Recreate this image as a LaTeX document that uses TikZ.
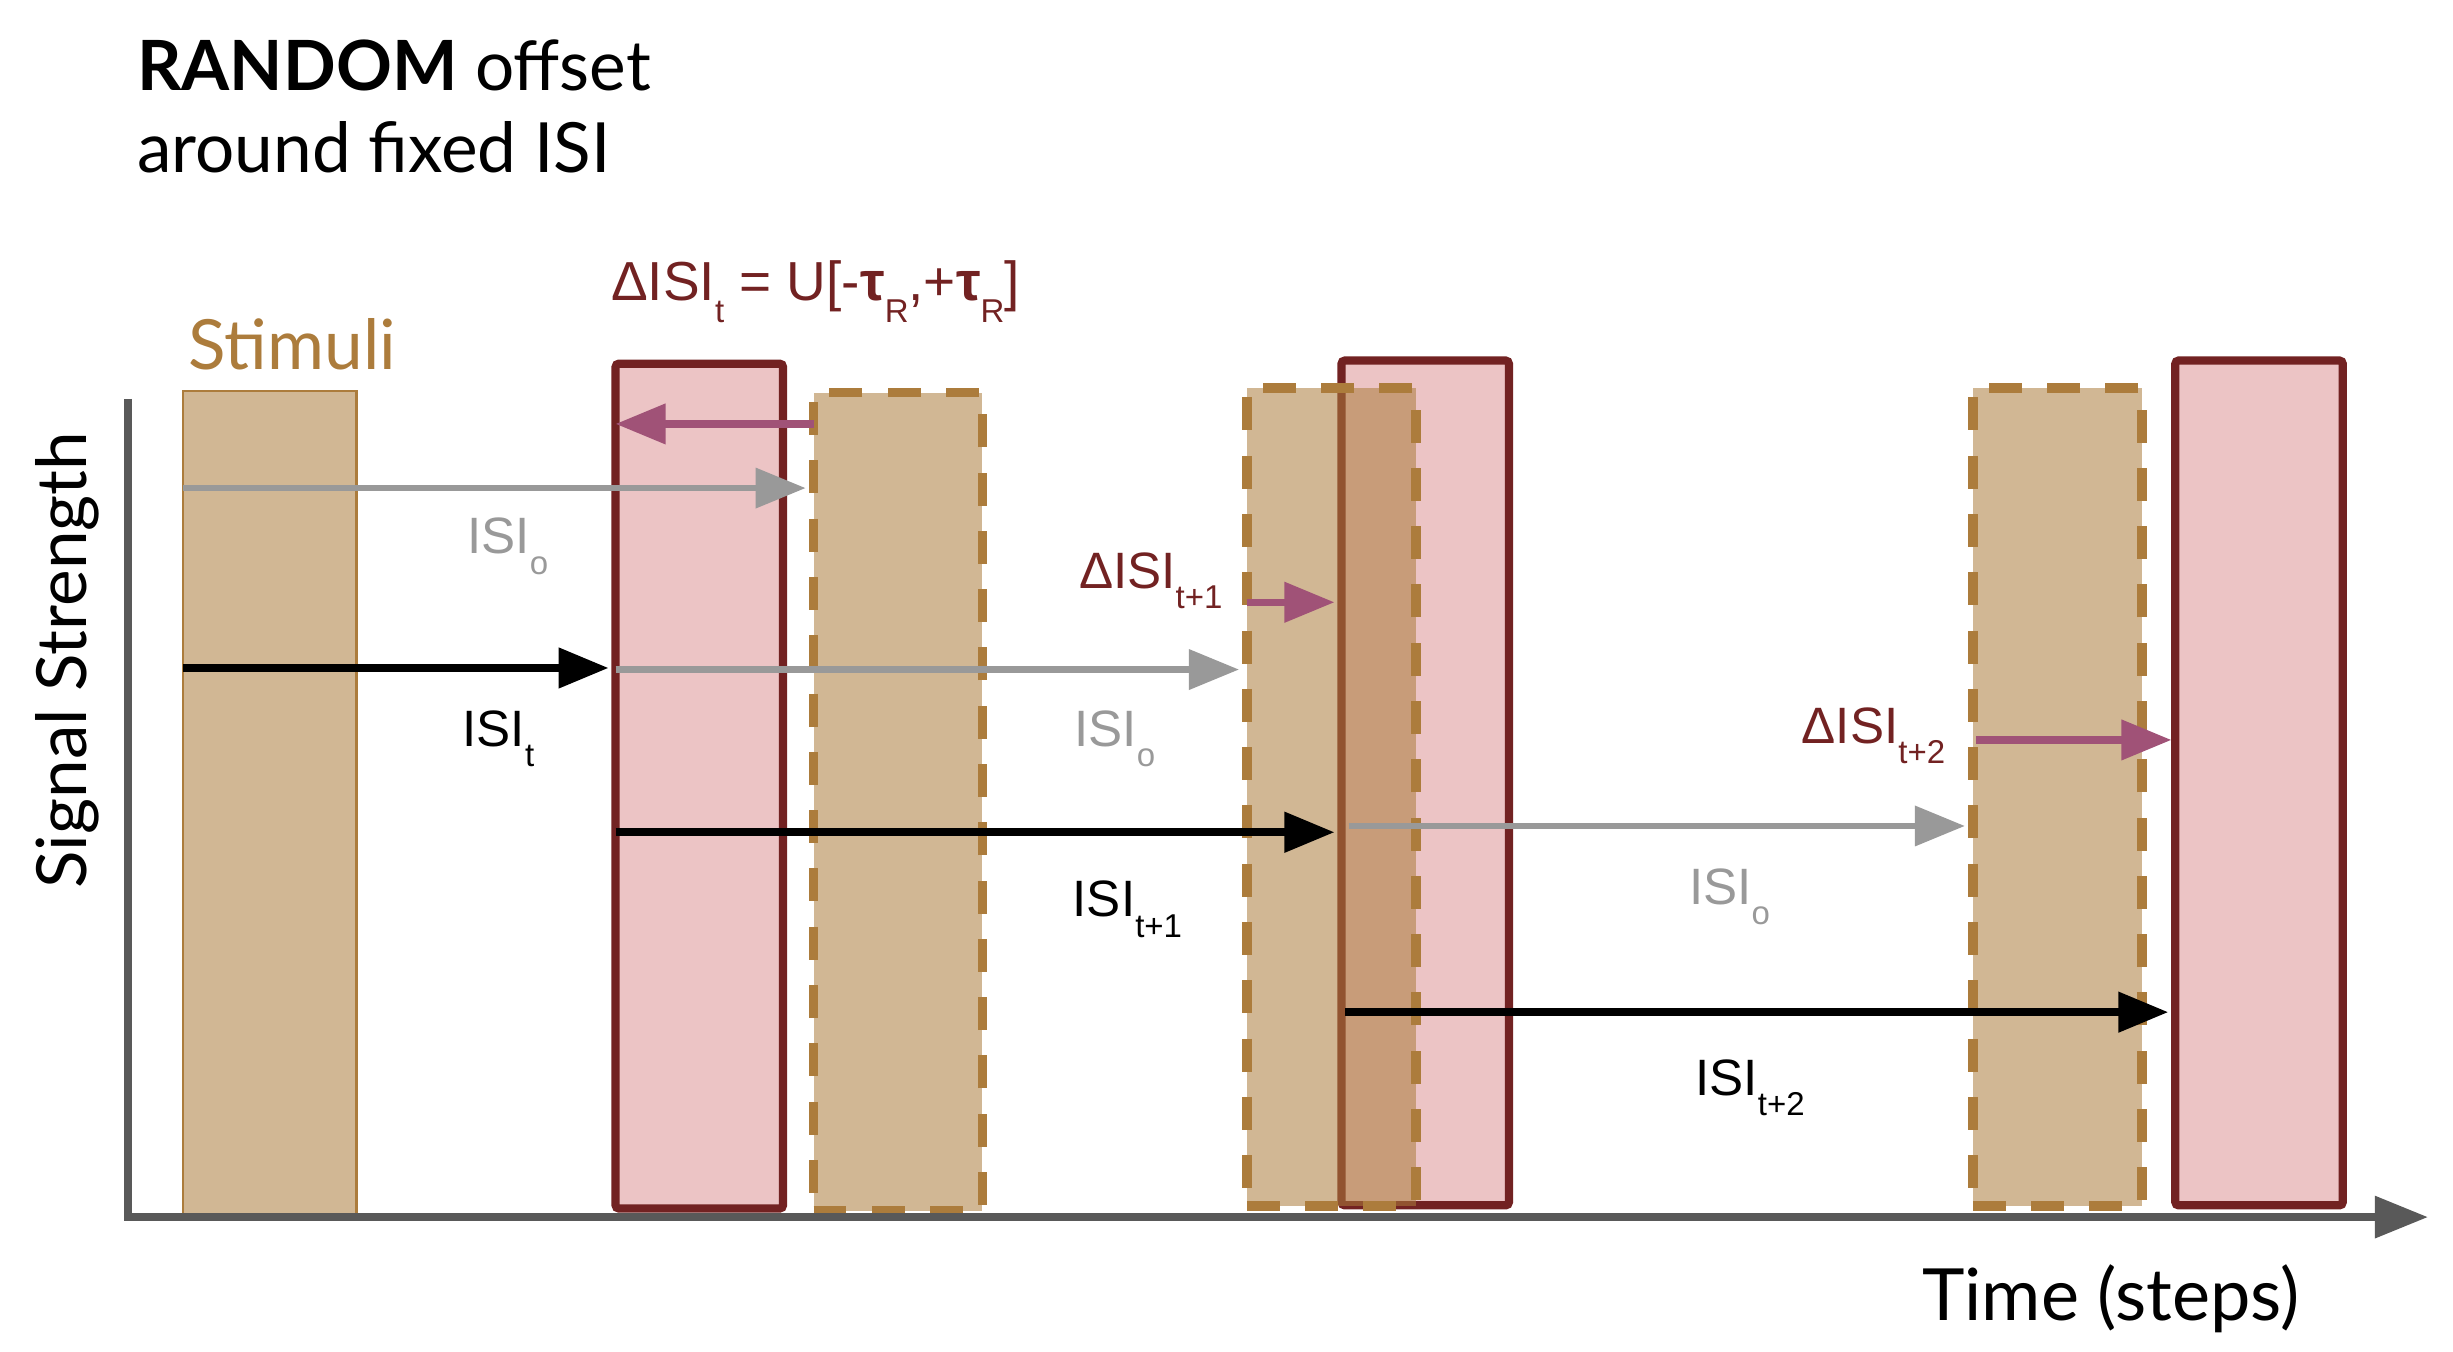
\documentclass[tikz,border=0pt]{standalone}
\usepackage{fontspec}
\setmainfont{Lato}
\newfontfamily\arialfont{Liberation Sans}
\usetikzlibrary{arrows.meta}

\definecolor{stimline}{RGB}{172,124,60}
\definecolor{redfill}{RGB}{236,196,197}
\definecolor{redline}{RGB}{114,34,34}
\definecolor{deltacol}{RGB}{160,82,119}
\definecolor{fixgray}{RGB}{153,153,153}
\definecolor{axiscol}{RGB}{89,89,89}

\newcommand{\lowsub}[1]{\raisebox{-0.4em}{\fontsize{6}{7}\selectfont #1}}

\tikzset{
  bar/.style={anchor=south west,inner sep=0pt,outer sep=0pt},
  stimbar/.style={bar,minimum width=1.11cm,minimum height=5.26cm,
    draw=stimline,line width=0.5pt,fill=stimline,fill opacity=0.55},
  shiftbar/.style={bar,minimum width=1.08cm,minimum height=5.23cm,
    draw=stimline,line width=1.75pt,dash pattern=on 6pt off 4.6pt,
    fill=stimline,fill opacity=0.55},
  redbar/.style={bar,minimum width=1.07cm,minimum height=5.40cm,
    draw=redline,line width=1.5pt,fill=redfill,rounded corners=0.6pt},
  fixarr/.style={draw=fixgray,line width=1.2pt,shorten >=0.5mm,
    -{Triangle[length=3.2mm,width=2.5mm]}},
  realarr/.style={draw=black,line width=1.4pt,shorten >=0.45mm,
    -{Triangle[length=3.2mm,width=2.5mm]}},
  deltaarr/.style={draw=deltacol,line width=1.3pt,
    -{Triangle[length=3.2mm,width=2.5mm]}},
  lbl/.style={anchor=base west,inner sep=0pt,
    font=\arialfont\fontsize{9.3}{11}\selectfont},
  bigtext/.style={inner sep=0pt,font=\fontsize{12.6}{15}\selectfont}
}

\begin{document}
\begin{tikzpicture}[x=1cm,y=1cm]
  \useasboundingbox (0,0) rectangle (15.68,8.64);
  % title
  \node[bigtext,anchor=base west] (title1) at (0.87,8.06) {\textbf{RANDOM} offset};
  \node[bigtext,anchor=base west] (title2) at (0.87,7.54) {around fixed ISI};
  \node[bigtext,anchor=base west,text=stimline] (stimlbl) at (1.20,6.28) {Stimuli};
  % bars
  \node[redbar] (red1) at (3.935,0.915) {};
  \node[redbar] (red2) at (8.575,0.935) {};
  \node[redbar] (red3) at (13.905,0.935) {};
  \node[stimbar] (stim) at (1.17,0.88) {};
  \node[shiftbar] (dash1) at (5.20,0.90) {};
  \node[shiftbar] (dash2) at (7.97,0.93) {};
  \node[shiftbar] (dash3) at (12.61,0.93) {};
  % axes
  \coordinate (ytop) at (0.82,6.09);
  \coordinate (origin) at (0.82,0.86);
  \coordinate (xend) at (15.52,0.86);
  \draw[axiscol,line width=1.4pt,-{Triangle[length=3.4mm,width=2.6mm]}]
    (ytop) -- (origin) -- (xend);
  \node[bigtext,rotate=90,anchor=base] (ylbl) at (0.55,4.42) {Signal Strength};
  \node[bigtext,anchor=base west,font=\fontsize{13.1}{15}\selectfont] (xlbl) at (12.28,0.20) {Time (steps)};
  % intervals
  \draw[deltaarr] (dash1.west |- 0,5.93) -- (red1.west |- 0,5.93);
  \draw[fixarr] (stim.west |- 0,5.52) -- (dash1.west |- 0,5.52);
  \draw[realarr] (stim.west |- 0,4.37) -- (red1.west |- 0,4.37);
  \draw[fixarr] (red1.west |- 0,4.36) -- (dash2.west |- 0,4.36);
  \draw[deltaarr,shorten >=0.45mm] (dash2.west |- 0,4.79) -- (red2.west |- 0,4.79);
  \draw[realarr] (red1.west |- 0,3.32) -- (red2.west |- 0,3.32);
  \draw[fixarr,shorten <=0.45mm] (red2.west |- 0,3.36) -- (dash3.west |- 0,3.36);
  \draw[deltaarr,shorten <=0.2mm,shorten >=0.25mm] (dash3.west |- 0,3.91) -- (red3.west |- 0,3.91);
  \draw[realarr,shorten <=0.25mm] (red2.west |- 0,2.17) -- (red3.west |- 0,2.17);
  % labels
  \node[lbl,text=redline,font=\arialfont\fontsize{10}{12}\selectfont] (hdr) at (3.90,6.72)
    {ΔISI\lowsub{t} = U[-{\bfseries τ}\lowsub{R},+{\bfseries τ}\lowsub{R}]};
  \node[lbl,text=fixgray] (isio1) at (2.98,5.10) {ISI\lowsub{o}};
  \node[lbl] (isit) at (2.95,3.87) {ISI\lowsub{t}};
  \node[lbl,text=fixgray] (isio2) at (6.86,3.87) {ISI\lowsub{o}};
  \node[lbl,text=redline] (dlt1) at (6.89,4.88) {ΔISI\lowsub{t+1}};
  \node[lbl] (isit1) at (6.85,2.78) {ISI\lowsub{t+1}};
  \node[lbl,text=fixgray] (isio3) at (10.79,2.86) {ISI\lowsub{o}};
  \node[lbl,text=redline] (dlt2) at (11.51,3.89) {ΔISI\lowsub{t+2}};
  \node[lbl] (isit2) at (10.83,1.64) {ISI\lowsub{t+2}};
\end{tikzpicture}
\end{document}
